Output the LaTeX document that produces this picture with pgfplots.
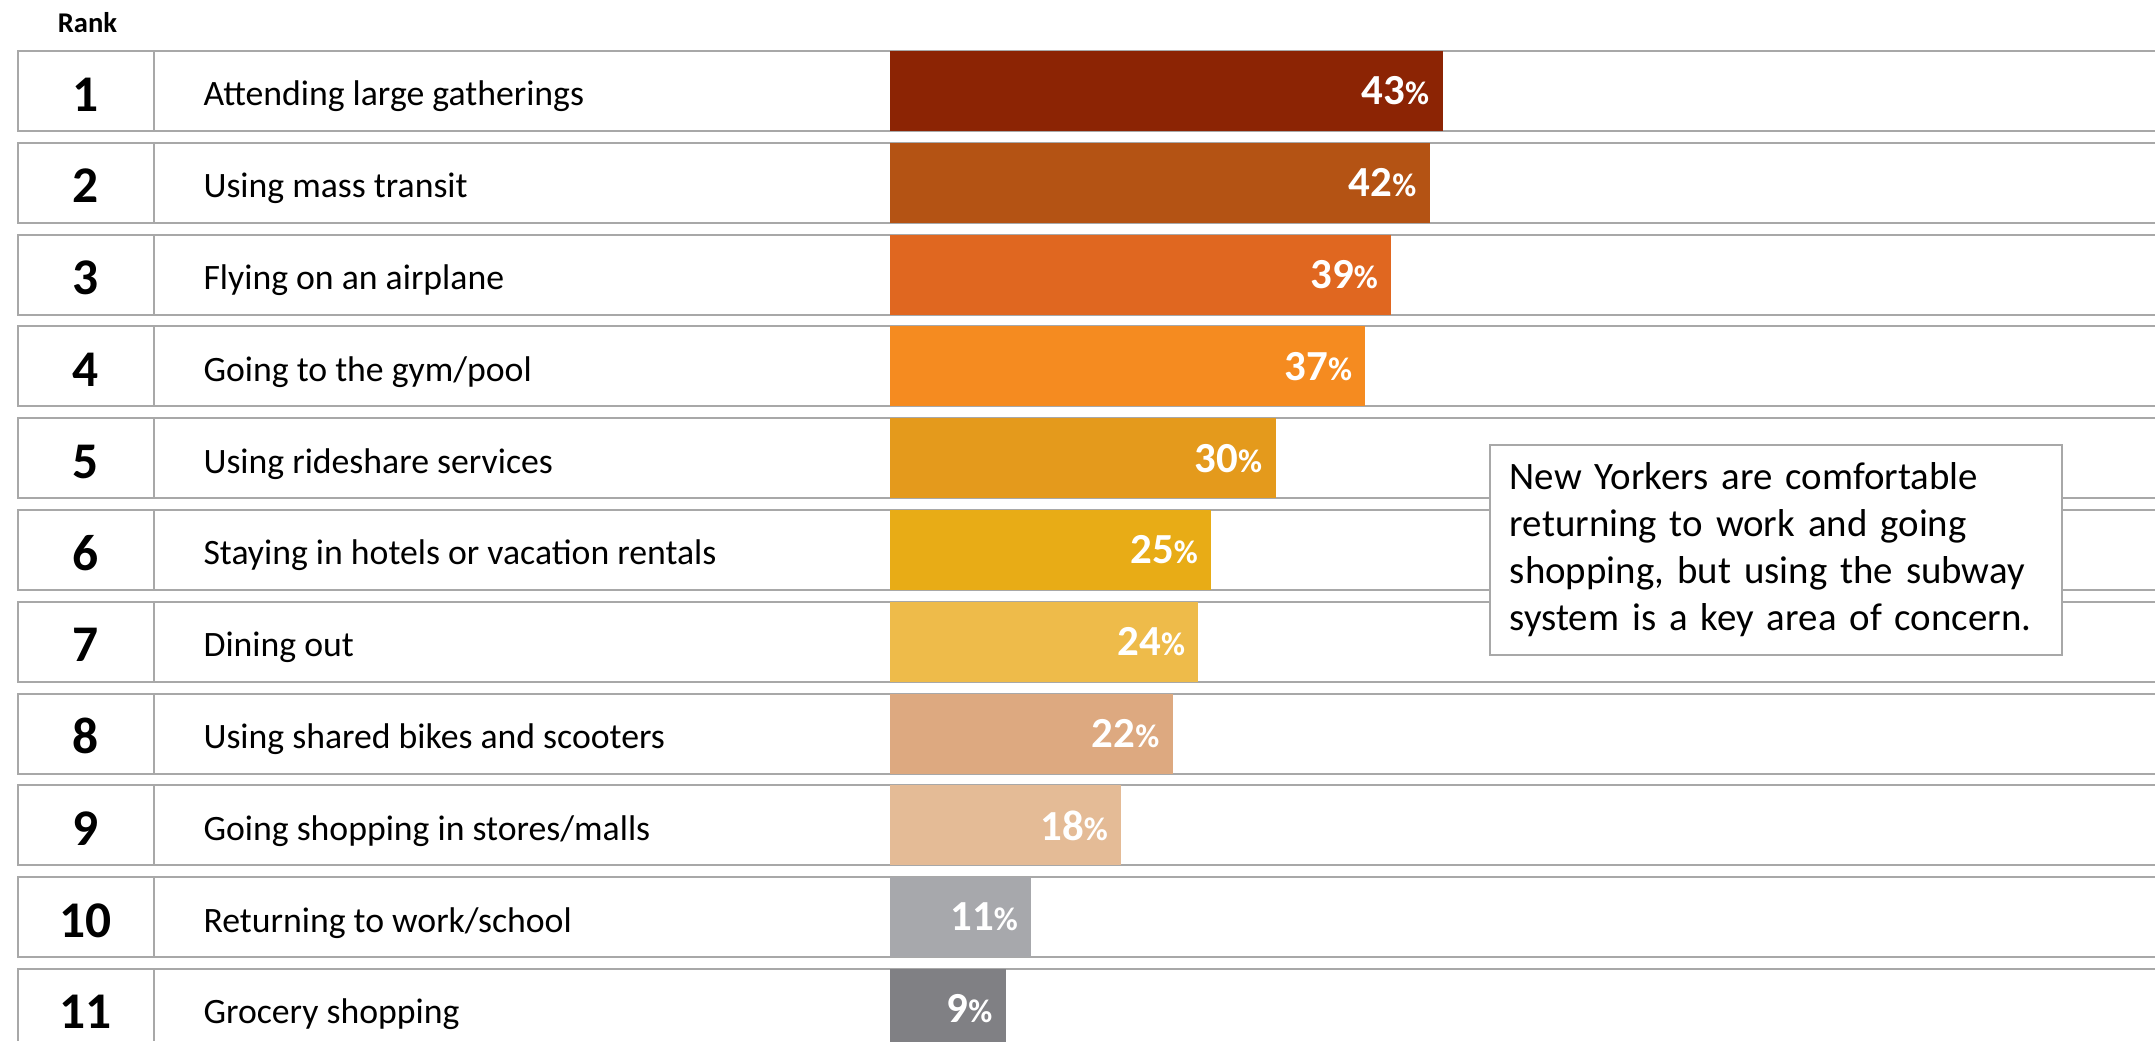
\documentclass[border=0pt]{standalone}
\usepackage{fontspec}
\setmainfont{Carlito}
\usepackage{pgfplots}
\pgfplotsset{compat=1.18}
\definecolor{c1}{HTML}{8C2404}
\definecolor{c2}{HTML}{B45314}
\definecolor{c3}{HTML}{E06720}
\definecolor{c4}{HTML}{F58B20}
\definecolor{c5}{HTML}{E49A1C}
\definecolor{c6}{HTML}{E8AC16}
\definecolor{c7}{HTML}{EEBB4A}
\definecolor{c8}{HTML}{DDA980}
\definecolor{c9}{HTML}{E4BB96}
\definecolor{c10}{HTML}{A7A8AC}
\definecolor{c11}{HTML}{808084}
\definecolor{rowline}{HTML}{A8A8A8}
\begin{document}
\begin{tikzpicture}
\begin{axis}[
  name=main,
  scale only axis, width=754.25pt, height=364.35pt,
  xmin=-69.26, xmax=98.44, ymin=0.0087, ymax=11.349,
  y dir=reverse,
  axis line style={draw=none}, tick style={draw=none}, major tick length=0pt,
  xtick=\empty,
  ytick={1,2,3,4,5,6,7,8,9,10,11},
  yticklabels={Attending large gatherings, Using mass transit, Flying on an airplane, Going to the gym/pool, Using rideshare services, Staying in hotels or vacation rentals, Dining out, Using shared bikes and scooters, Going shopping in stores/malls, Returning to work/school, Grocery shopping},
  yticklabel style={anchor=base west, inner sep=0pt, xshift=71.05pt, yshift=-5.2pt, font=\fontsize{12.5}{14}\selectfont, text=black},
  xbar, bar width=28pt, bar shift=0pt,
  point meta=x,
  /pgf/number format/assume math mode=true,
  nodes near coords={\makebox[0pt][r]{\pgfmathprintnumber{\pgfplotspointmeta}{\fontsize{11.5}{11.5}\selectfont\%}\hspace{5.4pt}}},
  every node near coord/.append style={inner sep=0pt, font=\fontsize{15}{15}\selectfont\bfseries, text=white},
]
% row frames
\pgfplotsinvokeforeach{1,2,3,4,5,6,7,8,9,10}{
  \draw[rowline, line width=0.75pt] ([yshift=14pt]axis cs:98.44,#1) -- ([yshift=14pt]axis cs:-67.86,#1) -- ([yshift=-14pt]axis cs:-67.86,#1) -- ([yshift=-14pt]axis cs:98.44,#1);
  \draw[rowline, line width=0.75pt] ([yshift=14pt]axis cs:-57.28,#1) -- ([yshift=-14pt]axis cs:-57.28,#1);
}
\draw[rowline, line width=0.75pt] (axis cs:98.44,10.5643) -- (axis cs:-67.86,10.5643) -- (axis cs:-67.86,11.349);
\draw[rowline, line width=0.75pt] (axis cs:-57.28,10.5643) -- (axis cs:-57.28,11.349);

\addplot[fill=c1, draw=none] coordinates {(43,1)};
\addplot[fill=c2, draw=none] coordinates {(42,2)};
\addplot[fill=c3, draw=none] coordinates {(39,3)};
\addplot[fill=c4, draw=none] coordinates {(37,4)};
\addplot[fill=c5, draw=none] coordinates {(30,5)};
\addplot[fill=c6, draw=none] coordinates {(25,6)};
\addplot[fill=c7, draw=none] coordinates {(24,7)};
\addplot[fill=c8, draw=none] coordinates {(22,8)};
\addplot[fill=c9, draw=none] coordinates {(18,9)};
\addplot[fill=c10, draw=none] coordinates {(11,10)};
\addplot[fill=c11, draw=none] coordinates {(9,11)};

% rank numbers
\pgfplotsinvokeforeach{1,2,3,4,5,6,7,8,9,10,11}{
  \node[anchor=base, inner sep=0pt, yshift=-7pt, font=\fontsize{18}{18}\selectfont\bfseries] at (axis cs:-62.57,#1) {#1};
}
\node[anchor=center, inner sep=0pt, font=\fontsize{10}{10}\selectfont\bfseries] at (axis cs:-62.45,0.259) {Rank};

% annotation box
\node[anchor=north west, draw=rowline, line width=0.6pt, fill=white, minimum width=200.2pt, minimum height=73.5pt, text width=186.2pt, inner xsep=7pt, inner ysep=0pt, align=left, font=\fontsize{13.6}{16.5}\selectfont] at (axis cs:46.61,4.845)
  {New Yorkers are comfortable\\returning to work and going\\shopping, but using the subway\\system is a key area of concern.};
\end{axis}
\pgfresetboundingbox
\useasboundingbox (main.south west) rectangle (main.north east);
\end{tikzpicture}
\end{document}
